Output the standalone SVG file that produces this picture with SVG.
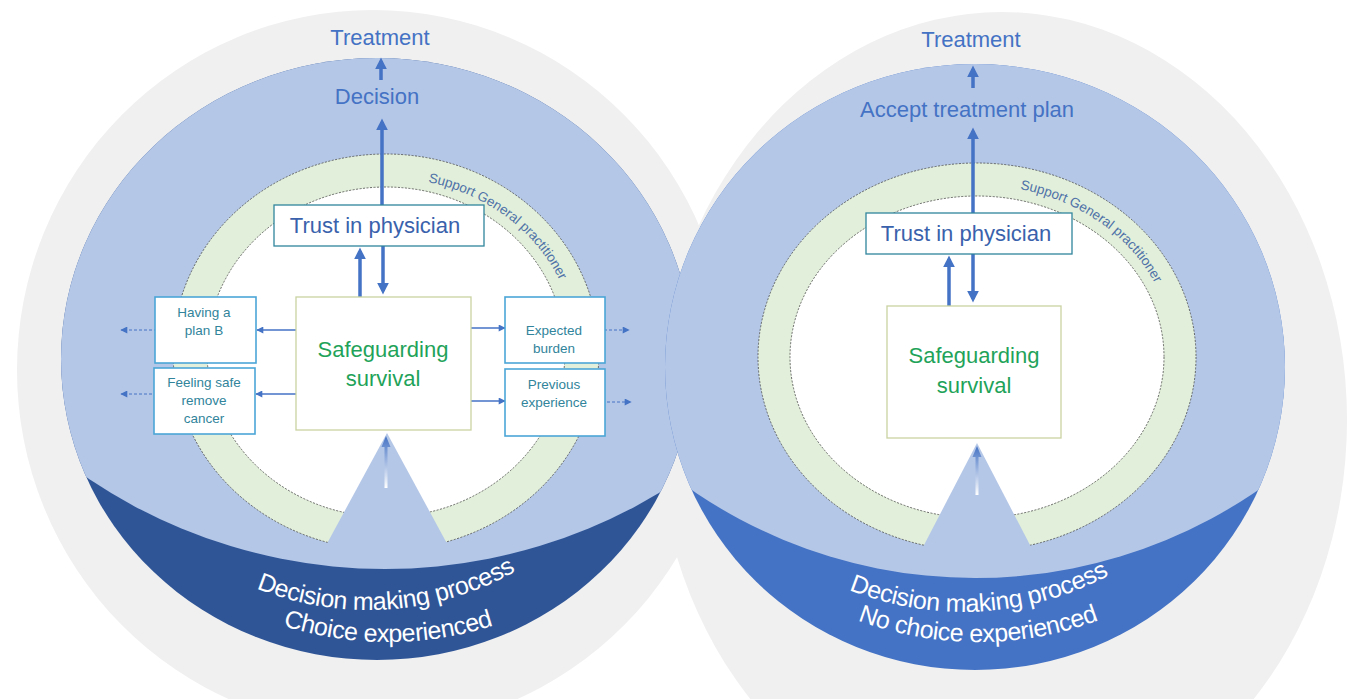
<svg xmlns="http://www.w3.org/2000/svg" width="1349" height="699" viewBox="0 0 1349 699">
<style>
text{font-family:"Liberation Sans",Arial,sans-serif}
.grey{fill:#F0F0F0}
.lb{fill:#B4C7E7}
.ring{fill:#E2EFDA;stroke:#4a4a4a;stroke-width:0.8;stroke-dasharray:2 1.5}
.inner{fill:#FFFFFF;stroke:#4a4a4a;stroke-width:0.8;stroke-dasharray:2 1.5}
.lbl{fill:#4472C4;font-size:22px;text-anchor:middle}
.trust{fill:#FFFFFF;stroke:#31859C;stroke-width:1.3}
.trustt{fill:#3A62AC;font-size:22px;text-anchor:middle}
.safe{fill:#FFFFFF;stroke:#C9D3A2;stroke-width:1.3}
.safet{fill:#1FA35A;font-size:22px;text-anchor:middle}
.sbox{fill:#FFFFFF;stroke:#4BA6D6;stroke-width:1.6}
.sboxt{fill:#31849B;font-size:13.5px;text-anchor:middle}
.sup{fill:#4F72A8;font-size:13.5px}
.bot{fill:#FFFFFF;font-size:25px;letter-spacing:-0.4px;text-anchor:middle}
.thick{stroke:#4472C4;stroke-width:3.5;fill:none;marker-end:url(#bigHead)}
.thin{stroke:#4472C4;stroke-width:1.3;fill:none;marker-end:url(#smallHead)}
.dash{stroke:#4472C4;stroke-width:1;stroke-dasharray:3 2;fill:none;marker-end:url(#smallHead)}
</style>
<defs>
<marker id="bigHead" viewBox="0 0 10 10" refX="7" refY="5" markerWidth="12" markerHeight="12" markerUnits="userSpaceOnUse" orient="auto"><path d="M0,0 L10,5 L0,10 z" fill="#4472C4"/></marker>
<marker id="smallHead" viewBox="0 0 10 10" refX="9" refY="5" markerWidth="8" markerHeight="7" markerUnits="userSpaceOnUse" orient="auto"><path d="M0,0 L10,5 L0,10 z" fill="#4472C4"/></marker>
<linearGradient id="fade" x1="0" y1="0" x2="0" y2="1"><stop offset="0" stop-color="#4472C4"/><stop offset="1" stop-color="#FFFFFF"/></linearGradient>
<clipPath id="clipL"><ellipse cx="377" cy="359" rx="316" ry="301"/></clipPath>
<clipPath id="clipR"><ellipse cx="975" cy="367" rx="310" ry="303"/></clipPath>
<path id="supL" d="M 428 182 A 191 174 0 0 1 570 307"/>
<path id="supR" d="M 1020 189 A 197 172 0 0 1 1167 312"/>
<path id="botL1" d="M 68 310 A 300 300 0 0 0 668 310"/>
<path id="botL2" d="M 43 297 A 345 345 0 0 0 733 297"/>
<path id="botR1" d="M 655 304 A 308 308 0 0 0 1271 304"/>
<path id="botR2" d="M 633 297 A 345 345 0 0 0 1323 297"/>
</defs>

<g id="background">
<ellipse class="grey" cx="373" cy="370" rx="356" ry="360"/>
<ellipse class="grey" cx="1002" cy="420" rx="345" ry="408"/>
</g>

<g id="left-circle">
<g clip-path="url(#clipL)">
<rect x="40" y="40" width="680" height="640" fill="#2F5597"/>
<circle class="lb" cx="385" cy="37" r="532"/>
</g>
<ellipse class="ring" cx="386" cy="352" rx="213" ry="198"/>
<ellipse class="inner" cx="386" cy="352" rx="179" ry="165"/>
<path class="lb" d="M387 433 L457 562 L317 562 Z"/>
<path d="M386 436 L390.5 447 L387.5 447 L387.5 488 L384.5 488 L384.5 447 L381.5 447 Z" fill="url(#fade)"/>
<text class="sup"><textPath href="#supL">Support  General practitioner</textPath></text>
</g>

<g id="right-circle">
<g clip-path="url(#clipR)">
<rect x="640" y="40" width="680" height="660" fill="#4472C4"/>
<circle class="lb" cx="975" cy="78" r="500"/>
</g>
<ellipse class="ring" cx="977" cy="357" rx="219" ry="194"/>
<ellipse class="inner" cx="977" cy="357" rx="187" ry="161"/>
<path class="lb" d="M977 443 L1044 572 L910 572 Z"/>
<path d="M977 446 L981.5 457 L978.5 457 L978.5 495 L975.5 495 L975.5 457 L972.5 457 Z" fill="url(#fade)"/>
<text class="sup"><textPath href="#supR">Support  General practitioner</textPath></text>
</g>

<g id="connectors">
<line class="thick" x1="381" y1="80" x2="381" y2="61"/>
<line class="thick" x1="382" y1="205" x2="382" y2="122"/>
<line class="thick" x1="360" y1="297" x2="360" y2="251"/>
<line class="thick" x1="383" y1="246" x2="383" y2="291"/>
<line class="thin" x1="296" y1="330" x2="257" y2="330"/>
<line class="thin" x1="296" y1="394" x2="256" y2="394"/>
<line class="thin" x1="471" y1="328" x2="505" y2="328"/>
<line class="thin" x1="471" y1="401" x2="505" y2="401"/>
<line class="dash" x1="157" y1="330" x2="121" y2="330"/>
<line class="dash" x1="157" y1="394" x2="121" y2="394"/>
<line class="dash" x1="594" y1="330" x2="629" y2="330"/>
<line class="dash" x1="597" y1="402" x2="631" y2="402"/>
<line class="thick" x1="973" y1="88" x2="973" y2="69"/>
<line class="thick" x1="973" y1="213" x2="973" y2="131"/>
<line class="thick" x1="949" y1="306" x2="949" y2="259"/>
<line class="thick" x1="973" y1="254" x2="973" y2="299"/>
</g>

<g id="labels-left">
<text class="lbl" x="380" y="45">Treatment</text>
<text class="lbl" x="377" y="104">Decision</text>
</g>
<g id="labels-right">
<text class="lbl" x="971" y="47">Treatment</text>
<text class="lbl" x="967" y="117">Accept treatment plan</text>
</g>

<g id="trust-left">
<rect class="trust" x="274" y="205" width="210" height="41"/>
<text class="trustt" x="375" y="233">Trust in physician</text>
</g>
<g id="safeguarding-left">
<rect class="safe" x="296" y="297" width="175" height="133"/>
<text class="safet" x="383" y="357">Safeguarding</text>
<text class="safet" x="383" y="386">survival</text>
</g>
<g id="plan-b">
<rect class="sbox" x="155" y="297" width="101" height="66"/>
<text class="sboxt" x="204" y="317">Having a</text>
<text class="sboxt" x="204" y="335">plan B</text>
</g>
<g id="feeling-safe">
<rect class="sbox" x="154" y="368" width="101" height="66"/>
<text class="sboxt" x="204" y="387">Feeling safe</text>
<text class="sboxt" x="204" y="405">remove</text>
<text class="sboxt" x="204" y="423">cancer</text>
</g>
<g id="expected-burden">
<rect class="sbox" x="505" y="297" width="100" height="66"/>
<text class="sboxt" x="554" y="335">Expected</text>
<text class="sboxt" x="554" y="353">burden</text>
</g>
<g id="previous-experience">
<rect class="sbox" x="505" y="369" width="100" height="67"/>
<text class="sboxt" x="554" y="389">Previous</text>
<text class="sboxt" x="554" y="407">experience</text>
</g>

<g id="trust-right">
<rect class="trust" x="866" y="213" width="206" height="41"/>
<text class="trustt" x="966" y="241">Trust in physician</text>
</g>
<g id="safeguarding-right">
<rect class="safe" x="887" y="306" width="174" height="132"/>
<text class="safet" x="974" y="363">Safeguarding</text>
<text class="safet" x="974" y="393">survival</text>
</g>

<g id="process-left">
<text class="bot"><textPath href="#botL1" startOffset="491">Decision making process</textPath></text>
<text class="bot"><textPath href="#botL2" startOffset="50%">Choice experienced</textPath></text>
</g>
<g id="process-right">
<text class="bot"><textPath href="#botR1" startOffset="501">Decision making process</textPath></text>
<text class="bot"><textPath href="#botR2" startOffset="50%">No choice experienced</textPath></text>
</g>
</svg>
